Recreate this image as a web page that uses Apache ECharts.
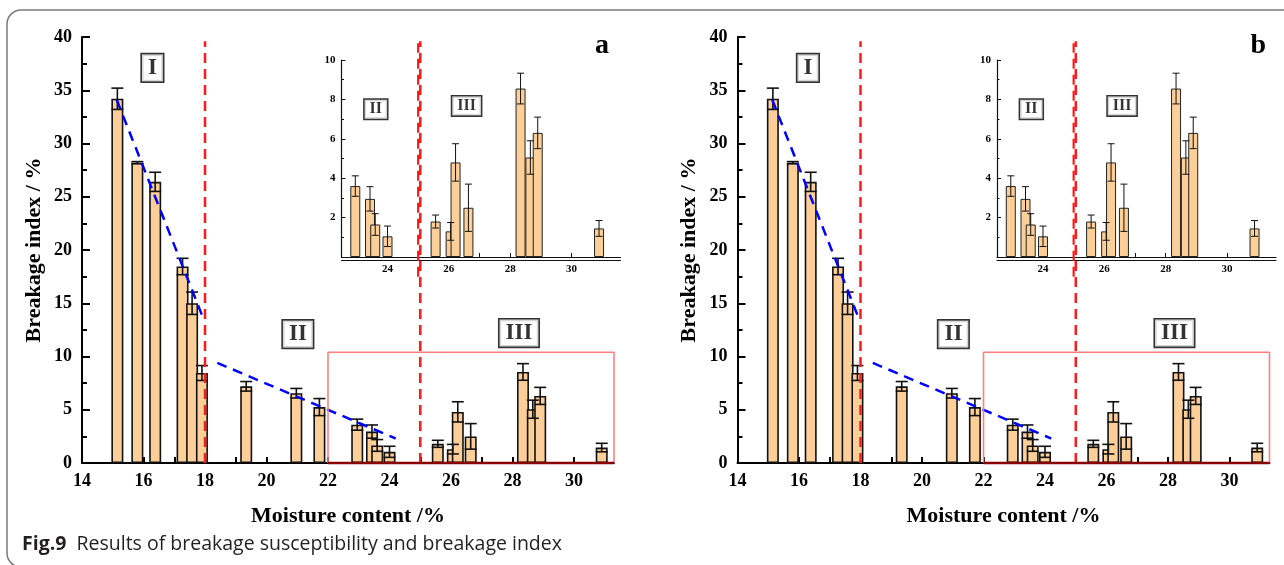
<!DOCTYPE html>
<html><head><meta charset="utf-8">
<script src="https://cdn.jsdelivr.net/npm/echarts@6/dist/echarts.min.js"></script>
<style>html,body{margin:0;padding:0;background:#fff}#c{width:1284px;height:565px}</style>
</head><body><div id="c"></div>
<script>
// ---------------- data ----------------
const moisture = [15.15, 15.8, 16.38, 17.27, 17.58, 17.9, 19.34, 20.97, 21.72, 22.95, 23.43, 23.6, 24.0, 25.57, 26.06, 26.22, 26.64, 28.34, 28.66, 28.9, 30.9];
const breakage = [34.2, 28.2, 26.4, 18.45, 15.0, 8.45, 7.2, 6.55, 5.25, 3.6, 2.95, 1.65, 1.05, 1.8, 1.3, 4.8, 2.5, 8.55, 5.05, 6.3, 1.45];
const stdErr   = [1.0, 0.1, 0.9, 0.77, 1.05, 0.7, 0.45, 0.45, 0.8, 0.52, 0.62, 0.55, 0.52, 0.33, 0.45, 0.95, 1.2, 0.78, 0.85, 0.8, 0.4];
const trendI  = [[15.13, 34.1], [17.94, 13.6]];
const trendII = [[18.4, 9.4], [24.2, 2.3]];
const stageBounds = [18, 25];
const stageLineTop = 39.6;
const boxX = [22, 31.3];
const boxTop = 10.4;
const regionNames = ['I', 'II', 'III'];
const regionX = [16.29, 21.02, 28.21];
const regionY = [37.1, 12.1, 12.2];
const insetNames = ['II', 'III'];
const insetX = [23.62, 26.58];
const insetY = [7.5, 7.67];
const insetFrom = 22.5;
const insetLine = [10.85, -1.0];
const xTickLabels = [14, 16, 18, 20, 22, 24, 26, 28, 30];
const xTicks = [14, 15, 16, 17, 18, 19, 20, 21, 22, 23, 24, 25, 26, 27, 28, 29, 30, 31];
const insetXLabels = [24, 26, 28, 30];
const insetXTicks = [23, 24, 25, 26, 27, 28, 29, 30, 31];
const panelLetters = ['a', 'b'];
const caption = ['Fig.9', 'Results of breakage susceptibility and breakage index'];
const xTitle = 'Moisture content /%';
const yTitle = 'Breakage index / %';

// ---------------- chart ----------------
const chart = echarts.init(document.getElementById('c'), null, {renderer: 'canvas'});
const serif = '"Liberation Serif", "Times New Roman", serif';
const fill = '#fdcf98';
const grids = [], xAxes = [], yAxes = [], series = [], graphics = [];

function errRender(cap, lw) {
  return function (params, api) {
    const x = api.value(0), lo = api.value(1), hi = api.value(2);
    const a = api.coord([x, hi]), b = api.coord([x, lo]);
    const h = cap / 2, st = {stroke: '#111', lineWidth: lw};
    return {type: 'group', children: [
      {type: 'line', shape: {x1: a[0], y1: a[1], x2: b[0], y2: b[1]}, style: st},
      {type: 'line', shape: {x1: a[0] - h, y1: a[1], x2: a[0] + h, y2: a[1]}, style: st},
      {type: 'line', shape: {x1: b[0] - h, y1: b[1], x2: b[0] + h, y2: b[1]}, style: st}
    ]};
  };
}

const barData = moisture.map((m, i) => [m, breakage[i]]);
const errData = moisture.map((m, i) => [m, breakage[i] - stdErr[i], breakage[i] + stdErr[i]]);
const inBar = barData.filter(d => d[0] >= insetFrom);
const inErr = errData.filter(d => d[0] >= insetFrom);

function addPanel(dx, letter) {
  const g = grids.length;
  grids.push({left: 82 + dx, top: 37, width: 532, height: 426});
  grids.push({left: 341.5 + dx, top: 60, width: 279, height: 197});
  const xm = xAxes.length;
  xAxes.push({
    gridIndex: g, type: 'value', min: 14, max: boxX[1],
    axisLine: {lineStyle: {color: '#000', width: 2}},
    axisTick: {inside: true, length: 6, customValues: xTicks, lineStyle: {color: '#000', width: 2}},
    axisLabel: {customValues: xTickLabels, color: '#000', fontFamily: serif, fontWeight: 'bold', fontSize: 18, margin: 9},
    splitLine: {show: false},
    name: xTitle, nameLocation: 'middle', nameGap: 42,
    nameTextStyle: {color: '#000', fontFamily: serif, fontWeight: 'bold', fontSize: 22}
  });
  const xi = xAxes.length;
  xAxes.push({
    gridIndex: g + 1, type: 'value', min: insetFrom, max: 31.6,
    axisLine: {lineStyle: {color: '#111', width: 1.2}},
    axisTick: {inside: true, length: 4, customValues: insetXTicks, lineStyle: {color: '#111', width: 1}},
    axisLabel: {customValues: insetXLabels, color: '#000', fontFamily: serif, fontWeight: 'bold', fontSize: 11, margin: 7},
    splitLine: {show: false}
  });
  xAxes.push({
    gridIndex: g + 1, type: 'value', min: insetFrom, max: 31.6, position: 'bottom', offset: 3,
    axisLine: {lineStyle: {color: '#111', width: 1.2}},
    axisTick: {show: false}, axisLabel: {show: false}, splitLine: {show: false}
  });
  const ym = yAxes.length;
  yAxes.push({
    gridIndex: g, type: 'value', min: 0, max: 40, interval: 5,
    axisLine: {show: true, lineStyle: {color: '#000', width: 2}},
    axisTick: {show: true, inside: true, length: 8, lineStyle: {color: '#000', width: 2}},
    minorTick: {show: true, splitNumber: 2, length: 5, lineStyle: {color: '#000', width: 2}},
    axisLabel: {color: '#000', fontFamily: serif, fontWeight: 'bold', fontSize: 18, margin: 10},
    splitLine: {show: false},
    name: yTitle, nameLocation: 'middle', nameGap: 37,
    nameTextStyle: {color: '#000', fontFamily: serif, fontWeight: 'bold', fontSize: 22}
  });
  const yi = yAxes.length;
  yAxes.push({
    gridIndex: g + 1, type: 'value', min: 0, max: 10, interval: 2,
    axisLine: {show: true, lineStyle: {color: '#111', width: 1.2}},
    axisTick: {show: true, inside: true, length: 4, lineStyle: {color: '#111', width: 1}},
    minorTick: {show: true, splitNumber: 2, length: 2.5, lineStyle: {color: '#111', width: 1}},
    axisLabel: {color: '#000', fontFamily: serif, fontWeight: 'bold', fontSize: 11, margin: 6,
      formatter: v => v === 0 ? '' : String(v)},
    splitLine: {show: false}
  });

  const dashRed = {color: '#ff1a1a', width: 2.5, type: [10, 6]};
  // main
  series.push({type: 'bar', xAxisIndex: xm, yAxisIndex: ym, data: barData, barWidth: 12,
    itemStyle: {color: fill, borderColor: '#111', borderWidth: 1.6}, z: 2});
  series.push({type: 'custom', xAxisIndex: xm, yAxisIndex: ym, data: errData,
    encode: {x: 0, y: [1, 2]}, renderItem: errRender(12, 1.6), z: 3});
  [trendI, trendII].forEach(t => series.push({type: 'line', xAxisIndex: xm, yAxisIndex: ym, data: t,
    symbol: 'none', lineStyle: {color: '#0000ff', width: 2.5, type: [10, 7]}, z: 4}));
  stageBounds.forEach(b => series.push({type: 'line', xAxisIndex: xm, yAxisIndex: ym,
    data: [[b, 0], [b, stageLineTop]], symbol: 'none', lineStyle: dashRed, z: 4}));
  series.push({type: 'line', xAxisIndex: xm, yAxisIndex: ym,
    data: [[boxX[0], 0], [boxX[0], boxTop], [boxX[1], boxTop], [boxX[1], 0]],
    symbol: 'none', lineStyle: {color: '#ff7f7f', width: 1.6}, z: 4, clip: false});
  series.push({type: 'line', xAxisIndex: xm, yAxisIndex: ym,
    data: [[boxX[0], 0], [boxX[1], 0]],
    symbol: 'none', lineStyle: {color: '#8b0000', width: 2.5}, z: 5, clip: false});
  series.push({type: 'scatter', xAxisIndex: xm, yAxisIndex: ym, symbolSize: 0,
    data: regionNames.map((n, i) => ({value: [regionX[i], regionY[i]], name: n})),
    label: {show: true, position: 'inside', formatter: p => p.name, color: '#000',
      fontFamily: serif, fontWeight: 'bold', fontSize: 23, backgroundColor: '#fff',
      borderColor: '#000', borderWidth: 1.6, padding: [3, 6, 1, 6]}, z: 6});
  // inset
  series.push({type: 'bar', xAxisIndex: xi, yAxisIndex: yi, data: inBar, barWidth: 10,
    itemStyle: {color: fill, borderColor: '#222', borderWidth: 1}, z: 2});
  series.push({type: 'custom', xAxisIndex: xi, yAxisIndex: yi, data: inErr,
    encode: {x: 0, y: [1, 2]}, renderItem: errRender(7, 1), z: 3});
  series.push({type: 'line', xAxisIndex: xi, yAxisIndex: yi, clip: false,
    data: [[stageBounds[1], insetLine[1]], [stageBounds[1], insetLine[0]]],
    symbol: 'none', lineStyle: {color: '#ff1a1a', width: 2.2, type: [10, 6]}, z: 4});
  series.push({type: 'scatter', xAxisIndex: xi, yAxisIndex: yi, symbolSize: 0,
    data: insetNames.map((n, i) => ({value: [insetX[i], insetY[i]], name: n})),
    label: {show: true, position: 'inside', formatter: p => p.name, color: '#000',
      fontFamily: serif, fontWeight: 'bold', fontSize: 16, backgroundColor: '#fff',
      borderColor: '#000', borderWidth: 1.5, padding: [2, 5, 1, 5]}, z: 6});
  graphics.push({type: 'text', left: 595 + dx, top: 32,
    style: {text: letter, font: 'bold 28px ' + serif, fill: '#000'}});
}

addPanel(0, panelLetters[0]);
addPanel(655.5, panelLetters[1]);

graphics.push({type: 'rect', shape: {x: 7, y: 10, width: 1320, height: 557, r: 14},
  style: {fill: 'none', stroke: '#7a7a7a', lineWidth: 1.5}, silent: true});
graphics.push({type: 'text', left: 22, top: 534,
  style: {text: '{b|' + caption[0] + '}  ' + caption[1], font: '19.5px "Open Sans", sans-serif', fill: '#231f20',
    rich: {b: {font: 'bold 19.5px "Open Sans", sans-serif', fill: '#231f20'}}}});

chart.setOption({
  animation: false,
  backgroundColor: '#fff',
  grid: grids, xAxis: xAxes, yAxis: yAxes, series: series, graphic: graphics
});
</script></body></html>
